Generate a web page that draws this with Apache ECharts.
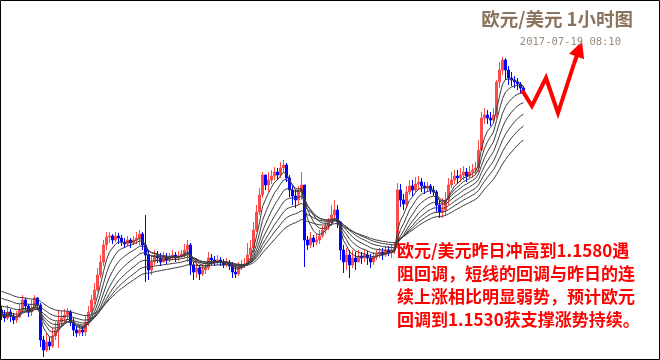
<!DOCTYPE html>
<html><head><meta charset="utf-8">
<script src="https://cdn.jsdelivr.net/npm/echarts@6/dist/echarts.min.js"></script>
<style>html,body{margin:0;padding:0;background:#fff}#c{width:660px;height:360px}</style>
</head><body><div id="c"></div>
<script>
// EUR/USD hourly bars (open of first bar, then closes / highs / lows)
const firstOpen = 1.1328;
const closes = [1.1324,1.1320,1.1326,1.1322,1.1318,1.1321,1.1328,1.1338,1.1332,1.1326,
1.1330,1.1340,1.1333,1.1298,1.1288,1.1296,1.1292,1.1302,1.1308,1.1316,
1.1320,1.1323,1.1326,1.1316,1.1308,1.1305,1.1308,1.1306,1.1316,1.1326,
1.1338,1.1348,1.1363,1.1376,1.1393,1.1401,1.1402,1.1398,1.1402,1.1400,
1.1396,1.1394,1.1398,1.1395,1.1398,1.1400,1.1404,1.1393,1.1383,1.1368,
1.1376,1.1382,1.1380,1.1376,1.1381,1.1378,1.1380,1.1383,1.1380,1.1382,
1.1384,1.1388,1.1393,1.1373,1.1366,1.1370,1.1364,1.1368,1.1370,1.1380,
1.1378,1.1376,1.1378,1.1376,1.1373,1.1375,1.1372,1.1366,1.1364,1.1370,
1.1372,1.1374,1.1383,1.1390,1.1408,1.1426,1.1443,1.1463,1.1453,1.1458,
1.1462,1.1466,1.1463,1.1470,1.1473,1.1460,1.1448,1.1442,1.1438,1.1446,
1.1453,1.1398,1.1393,1.1400,1.1396,1.1398,1.1402,1.1408,1.1412,1.1416,
1.1423,1.1428,1.1416,1.1388,1.1376,1.1383,1.1373,1.1380,1.1376,1.1382,
1.1380,1.1383,1.1380,1.1376,1.1381,1.1384,1.1386,1.1383,1.1388,1.1386,
1.1388,1.1390,1.1448,1.1438,1.1434,1.1446,1.1452,1.1448,1.1454,1.1456,
1.1452,1.1450,1.1452,1.1448,1.1446,1.1433,1.1426,1.1428,1.1438,1.1453,
1.1458,1.1462,1.1460,1.1463,1.1466,1.1462,1.1466,1.1468,1.1470,1.1488,
1.1520,1.1523,1.1520,1.1518,1.1523,1.1556,1.1568,1.1578,1.1568,1.1560,
1.1558,1.1556,1.1554,1.1550,1.1546];
const highs = [1.1332,1.1328,1.1333,1.1329,1.1325,1.1327,1.1334,1.1343,1.1340,1.1334,
1.1338,1.1343,1.1341,1.1335,1.1302,1.1305,1.1301,1.1310,1.1316,1.1328,
1.1327,1.1329,1.1330,1.1328,1.1320,1.1312,1.1313,1.1312,1.1322,1.1332,
1.1343,1.1355,1.1370,1.1383,1.1398,1.1406,1.1406,1.1404,1.1406,1.1405,
1.1403,1.1400,1.1402,1.1400,1.1402,1.1406,1.1408,1.1406,1.1423,1.1388,
1.1383,1.1388,1.1387,1.1385,1.1386,1.1385,1.1385,1.1388,1.1386,1.1387,
1.1388,1.1394,1.1398,1.1395,1.1376,1.1378,1.1373,1.1374,1.1376,1.1386,
1.1384,1.1382,1.1383,1.1381,1.1379,1.1380,1.1378,1.1376,1.1372,1.1376,
1.1378,1.1380,1.1395,1.1398,1.1416,1.1433,1.1450,1.1466,1.1463,1.1466,
1.1468,1.1471,1.1470,1.1476,1.1478,1.1475,1.1463,1.1452,1.1448,1.1452,
1.1466,1.1453,1.1402,1.1406,1.1403,1.1404,1.1408,1.1412,1.1416,1.1420,
1.1433,1.1438,1.1433,1.1416,1.1393,1.1390,1.1388,1.1388,1.1386,1.1388,
1.1386,1.1388,1.1387,1.1384,1.1386,1.1388,1.1390,1.1390,1.1392,1.1392,
1.1394,1.1396,1.1455,1.1454,1.1444,1.1452,1.1458,1.1458,1.1461,1.1462,
1.1460,1.1456,1.1456,1.1454,1.1452,1.1448,1.1438,1.1440,1.1446,1.1460,
1.1466,1.1468,1.1468,1.1470,1.1472,1.1470,1.1472,1.1474,1.1476,1.1498,
1.1526,1.1530,1.1528,1.1526,1.1530,1.1558,1.1576,1.1581,1.1580,1.1572,
1.1566,1.1562,1.1560,1.1556,1.1552];
const lows = [1.1318,1.1316,1.1318,1.1316,1.1314,1.1315,1.1320,1.1326,1.1328,1.1321,
1.1322,1.1328,1.1328,1.1291,1.1281,1.1286,1.1288,1.1290,1.1298,1.1290,
1.1312,1.1316,1.1318,1.1312,1.1302,1.1301,1.1302,1.1302,1.1302,1.1312,
1.1324,1.1334,1.1346,1.1360,1.1372,1.1388,1.1395,1.1394,1.1396,1.1394,
1.1392,1.1390,1.1392,1.1390,1.1393,1.1394,1.1393,1.1388,1.1356,1.1358,
1.1363,1.1373,1.1375,1.1372,1.1376,1.1374,1.1376,1.1378,1.1376,1.1377,
1.1380,1.1380,1.1376,1.1363,1.1358,1.1360,1.1358,1.1362,1.1364,1.1368,
1.1373,1.1372,1.1373,1.1372,1.1370,1.1371,1.1368,1.1360,1.1360,1.1362,
1.1368,1.1370,1.1372,1.1378,1.1386,1.1406,1.1423,1.1440,1.1448,1.1446,
1.1454,1.1458,1.1458,1.1460,1.1466,1.1456,1.1441,1.1433,1.1430,1.1433,
1.1438,1.1371,1.1388,1.1390,1.1391,1.1393,1.1394,1.1400,1.1404,1.1408,
1.1412,1.1418,1.1410,1.1378,1.1365,1.1368,1.1360,1.1370,1.1368,1.1376,
1.1374,1.1376,1.1373,1.1370,1.1373,1.1378,1.1380,1.1378,1.1381,1.1382,
1.1380,1.1384,1.1390,1.1431,1.1428,1.1430,1.1443,1.1442,1.1446,1.1448,
1.1446,1.1444,1.1446,1.1444,1.1442,1.1426,1.1420,1.1420,1.1422,1.1433,
1.1450,1.1454,1.1454,1.1456,1.1458,1.1456,1.1460,1.1460,1.1463,1.1466,
1.1488,1.1514,1.1514,1.1512,1.1516,1.1520,1.1550,1.1563,1.1558,1.1553,
1.1552,1.1550,1.1548,1.1545,1.1542];
// moving-average ribbon: periods and starting values read at the left edge
const emaPeriods = [5, 8, 12, 17, 23, 30, 40];
const emaSeeds = [1.1324, 1.1322, 1.1321, 1.1326, 1.1333, 1.1341, 1.1348];
// forecast arrow (bar position, price)
const arrowX = [173.5, 176.8, 181.5, 185.5, 190.8];
const arrowY = [1.1548, 1.1532, 1.1560, 1.1525, 1.1574];
const arrowTip = [192.6, 1.1589];
const titleText = '欧元/美元 1小时图';
const dateText = '2017-07-19 08:10';
const noteLines = ['欧元/美元昨日冲高到1.1580遇','阻回调，短线的回调与昨日的连','续上涨相比明显弱势，预计欧元','回调到1.1530获支撑涨势持续。'];

const cats = closes.map((_, i) => String(i));
const kData = closes.map((c, i) => [i === 0 ? firstOpen : closes[i - 1], c, lows[i], highs[i]]);
function ema(period, seed) {
  const a = 2 / (period + 1); let v = seed;
  return closes.map(c => { v = a * c + (1 - a) * v; return +v.toFixed(5); });
}
const yMin = 1.1278, yMax = 1.1638;
const chart = echarts.init(document.getElementById('c'), null, {renderer: 'canvas'});
const series = [{
  type: 'candlestick', xAxisIndex: 0, yAxisIndex: 0, data: kData, barWidth: 2,
  itemStyle: {color: '#ff4a4a', color0: '#0000ff', borderColor: '#ff4a4a', borderColor0: '#0000ff', borderWidth: 1}
}];
emaPeriods.forEach((p, k) => series.push({
  type: 'line', xAxisIndex: 0, yAxisIndex: 0, data: ema(p, emaSeeds[k]), showSymbol: false, symbol: 'none',
  lineStyle: {color: '#3c3c3c', width: 1}, z: 3, silent: true
}));
series.push({
  type: 'line', xAxisIndex: 1, yAxisIndex: 1, data: arrowX.map((x, i) => [x, arrowY[i]]),
  showSymbol: false, symbol: 'none', clip: false, lineStyle: {color: '#ff0000', width: 4, join: 'miter'}, z: 5,
  markLine: {silent: true, symbol: ['none', 'triangle'], symbolSize: [16, 16], label: {show: false},
    lineStyle: {color: '#ff0000', width: 4, type: 'solid'},
    data: [[{coord: [arrowX[arrowX.length - 1], arrowY[arrowY.length - 1]]}, {coord: arrowTip}]]}
});
chart.setOption({
  animation: false,
  backgroundColor: '#ffffff',
  grid: [{left: 0, top: 0, width: 525, height: 360}, {left: 0, top: 0, width: 585, height: 360}],
  xAxis: [
    {type: 'category', gridIndex: 0, data: cats, show: false, boundaryGap: true},
    {type: 'value', gridIndex: 1, min: -0.5, max: 194.5, show: false}
  ],
  yAxis: [
    {type: 'value', gridIndex: 0, min: yMin, max: yMax, show: false, splitLine: {show: false}},
    {type: 'value', gridIndex: 1, min: yMin, max: yMax, show: false, splitLine: {show: false}}
  ],
  title: [
    {text: titleText, right: 22, top: 5, textStyle: {fontFamily: 'Noto Sans CJK SC', fontSize: 18.5, fontWeight: 'bold', color: '#8c735e'}},
    {text: dateText, right: 34, top: 32, textStyle: {fontFamily: 'DejaVu Sans Mono', fontSize: 10.5, fontWeight: 'normal', color: '#9a8a7c'}}
  ],
  graphic: [
    {type: 'text', left: 397, top: 239, z: 10, style: {text: noteLines.join('\n'), font: 'bold 17px "Noto Sans CJK SC"', fill: '#ff0000', lineHeight: 23}},
    {type: 'rect', z: 20, shape: {x: 0.5, y: 0.5, width: 659, height: 359}, style: {fill: 'none', stroke: '#000', lineWidth: 1}}
  ],
  series
});
</script></body></html>
